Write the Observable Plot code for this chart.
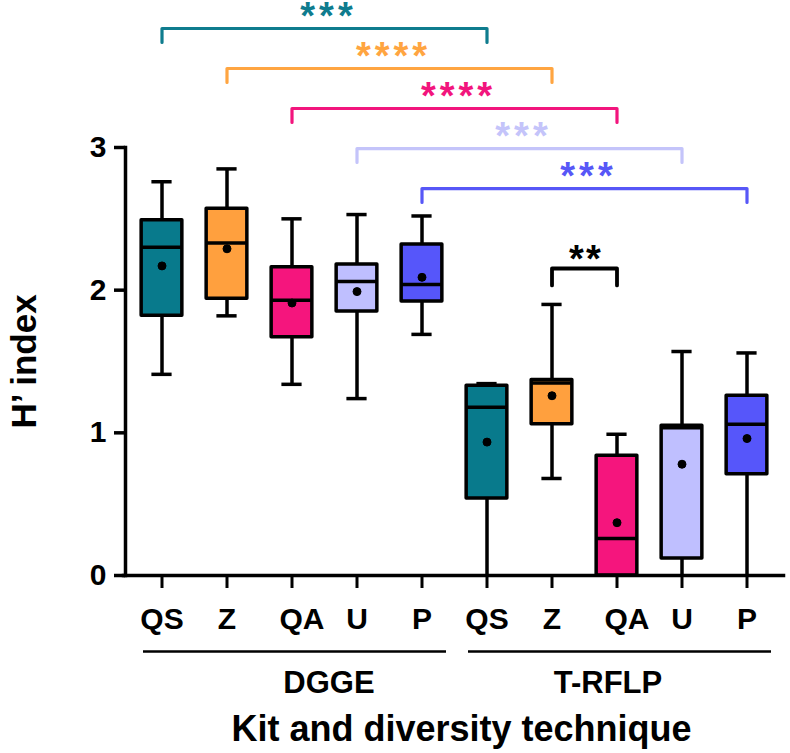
<!DOCTYPE html>
<html><head><meta charset="utf-8">
<script src="https://cdn.jsdelivr.net/npm/d3@7"></script>
<script src="https://cdn.jsdelivr.net/npm/@observablehq/plot@0.6"></script>
<style>body{margin:0;background:#fff} svg{font-family:"Liberation Sans",Arial,Helvetica,sans-serif}</style>
</head><body><div id="chart"></div>
<script>
// ---- data ----
const techniques = ["DGGE", "T-RFLP"];
const kits = ["QS", "Z", "QA", "U", "P"];
const kitColors = ["#087A8C", "#FFA03E", "#F5157D", "#BFBFFF", "#5656FA"];
// values ordered DGGE QS..P, then T-RFLP QS..P
const whiskerLow  = [1.41, 1.82, 1.34, 1.24, 1.69,  0.00, 0.68, 0.00, 0.00, 0.00];
const q1          = [1.82, 1.94, 1.67, 1.85, 1.92,  0.54, 1.06, 0.00, 0.12, 0.71];
const median      = [2.30, 2.33, 1.93, 2.06, 2.04,  1.18, 1.35, 0.26, 1.035, 1.06];
const q3          = [2.49, 2.57, 2.16, 2.18, 2.32,  1.33, 1.37, 0.84, 1.05, 1.26];
const whiskerHigh = [2.76, 2.85, 2.50, 2.53, 2.52,  1.345, 1.90, 0.99, 1.57, 1.56];
const mean        = [2.17, 2.29, 1.91, 1.99, 2.09,  0.935, 1.26, 0.37, 0.78, 0.96];
const yTicks = [0, 1, 2, 3];
// significance comparisons
const compFrom  = ["DGGE|QS", "DGGE|Z", "DGGE|QA", "DGGE|U", "DGGE|P"];
const compTo    = ["T-RFLP|QS", "T-RFLP|Z", "T-RFLP|QA", "T-RFLP|U", "T-RFLP|P"];
const compLabel = ["***", "****", "****", "***", "***"];
const compColor = ["#0F7C8E", "#FFA541", "#F2157D", "#C4C4FA", "#5757F7"];
const innerFrom = "T-RFLP|Z", innerTo = "T-RFLP|QA", innerLabel = "**";

// ---- build tables ----
const keys = [];
const rows = [];
techniques.forEach((t, ti) => kits.forEach((k, ki) => {
  const i = ti * kits.length + ki;
  const key = t + "|" + k;
  keys.push(key);
  rows.push({key, tech: t, kit: k, color: kitColors[ki],
    low: whiskerLow[i], q1: q1[i], median: median[i], q3: q3[i], high: whiskerHigh[i], mean: mean[i]});
}));

const W = 790, H = 753, mL = 125, mR = 7, mT = 147, mB = 178;
const step = (W - mL - mR) / keys.length;

const topLevel = 3.834, levelStep = 0.2804, drop = 0.098;
const comps = compFrom.map((f, i) => ({id: i, from: f, to: compTo[i], label: compLabel[i], color: compColor[i], level: topLevel - i * levelStep}));
const bracketPts = [];
comps.forEach(c => {
  bracketPts.push({id: c.id, key: c.from, y: c.level - drop, color: c.color});
  bracketPts.push({id: c.id, key: c.from, y: c.level, color: c.color});
  bracketPts.push({id: c.id, key: c.to, y: c.level, color: c.color});
  bracketPts.push({id: c.id, key: c.to, y: c.level - drop, color: c.color});
});
const innerLevel = 2.152, innerDrop = 0.119;
const innerPts = [
  {key: innerFrom, y: innerLevel - innerDrop},
  {key: innerFrom, y: innerLevel},
  {key: innerTo, y: innerLevel},
  {key: innerTo, y: innerLevel - innerDrop}
];
const groups = techniques.map(t => ({name: t, first: t + "|" + kits[0], last: t + "|" + kits[kits.length - 1]}));

const boxInset = 12.15, capInset = 22.4, sw = 3.5;
const qaKeys = keys.filter(k => k.endsWith("|QA"));
const otherKeys = keys.filter(k => !k.endsWith("|QA"));
const fmt = d => d.split("|")[1];
const starLS = 4, innerLS = 2;

const svg = Plot.plot({
  width: W, height: H,
  marginLeft: mL, marginRight: mR, marginTop: mT, marginBottom: mB,
  style: {fontFamily: '"Liberation Sans", Arial, sans-serif', background: "white", color: "black", overflow: "visible"},
  x: {type: "band", domain: keys, padding: 0},
  y: {domain: [0, 3]},
  color: {type: "identity"},
  marks: [
    // whiskers
    Plot.ruleX(rows, {x: "key", y1: "low", y2: "q1", stroke: "black", strokeWidth: sw}),
    Plot.ruleX(rows, {x: "key", y1: "q3", y2: "high", stroke: "black", strokeWidth: sw}),
    Plot.tickY(rows.filter(d => d.low > 0), {x: "key", y: "low", insetLeft: capInset, insetRight: capInset, stroke: "black", strokeWidth: sw}),
    Plot.tickY(rows, {x: "key", y: "high", insetLeft: capInset, insetRight: capInset, stroke: "black", strokeWidth: sw}),
    // boxes
    Plot.barY(rows, {x: "key", y1: "q1", y2: "q3", fill: "color", stroke: "black", strokeWidth: sw, insetLeft: boxInset, insetRight: boxInset, strokeLinejoin: "round"}),
    Plot.tickY(rows, {x: "key", y: "median", insetLeft: boxInset, insetRight: boxInset, stroke: "black", strokeWidth: sw}),
    Plot.dot(rows, {x: "key", y: "mean", r: 4, fill: "black", stroke: "black", strokeWidth: 1}),
    // axes
    Plot.frame({anchor: "left", stroke: "black", strokeWidth: sw}),
    Plot.frame({anchor: "bottom", stroke: "black", strokeWidth: sw, insetLeft: -2}),
    Plot.axisY({ticks: yTicks, tickSize: 11, tickPadding: 8, fontSize: 30, fontWeight: "bold", strokeWidth: sw, label: null, tickFormat: d => d}),
    Plot.axisX({ticks: otherKeys, tickSize: 13, tickPadding: 19, fontSize: 30, fontWeight: "bold", strokeWidth: 3, label: null, tickFormat: fmt}),
    Plot.axisX({ticks: qaKeys, tickSize: 13, tickPadding: 19, fontSize: 30, fontWeight: "bold", strokeWidth: 3, label: null, tickFormat: () => ""}),
    Plot.axisX({ticks: qaKeys, tickSize: 0, tickPadding: 32, fontSize: 30, fontWeight: "bold", label: null, tickFormat: fmt, dx: 10}),
    // group lines and labels
    Plot.ruleY(groups, {x1: "first", x2: "last", y: 0, dy: 76, insetLeft: 14, insetRight: 8, stroke: "black", strokeWidth: 2.4}),
    Plot.text(groups.slice(0, 1), {x: d => d.name + "|QA", y: 0, text: "name", dy: 117, dx: 37, fontSize: 31, fontWeight: "bold", lineAnchor: "bottom"}),
    Plot.text(groups.slice(1, 2), {x: d => d.name + "|QA", y: 0, text: "name", dy: 117, dx: -9, fontSize: 31, fontWeight: "bold", lineAnchor: "bottom"}),
    // axis titles
    Plot.text(["Kit and diversity technique"], {frameAnchor: "bottom", text: d => d, dy: 165, dx: 7, fontSize: 36, fontWeight: "bold", lineAnchor: "bottom", textAnchor: "middle"}),
    Plot.text(["H’ index"], {frameAnchor: "left", text: d => d, dx: -90, rotate: -90, fontSize: 35, fontWeight: "bold", lineAnchor: "bottom", textAnchor: "middle"}),
    // significance brackets
    Plot.line(bracketPts, {x: "key", y: "y", z: "id", stroke: "color", strokeWidth: 3.2, strokeLinejoin: "round", strokeLinecap: "round"}),
    Plot.text(comps, {x: "from", y: "level", text: "label", fill: "color", dx: 2.5 * step + starLS / 2, dy: 0, fontSize: 38, fontWeight: "bold", lineAnchor: "bottom", ariaDescription: "stars"}),
    Plot.line(innerPts, {x: "key", y: "y", stroke: "black", strokeWidth: 3.8, strokeLinejoin: "round", strokeLinecap: "round"}),
    Plot.text([innerLabel], {x: () => innerFrom, y: () => innerLevel, text: d => d, fill: "black", dx: 0.5 * step + innerLS / 2, dy: 3.7, fontSize: 38, fontWeight: "bold", lineAnchor: "bottom", ariaDescription: "inner-stars"})
  ]
});
d3.select(svg).selectAll('g[aria-description="stars"] text').style("letter-spacing", starLS + "px");
d3.select(svg).selectAll('g[aria-description="inner-stars"] text').style("letter-spacing", innerLS + "px");
document.getElementById("chart").appendChild(svg);
</script>
</body></html>
